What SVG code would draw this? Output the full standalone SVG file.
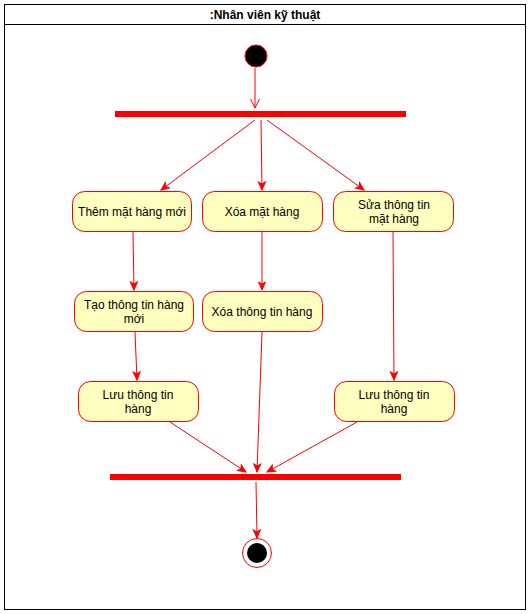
<svg xmlns="http://www.w3.org/2000/svg" width="531" height="614" viewBox="0 0 531 614">
<defs>
<marker id="arr" markerWidth="10" markerHeight="10" refX="9" refY="5" orient="auto" markerUnits="userSpaceOnUse">
<path d="M1,1.5 L9,5 L1,8.5 L3,5 Z" fill="#ff0000" stroke="#ff0000" stroke-width="1"/>
</marker>
<marker id="open" markerWidth="12" markerHeight="12" refX="10" refY="6" orient="auto" markerUnits="userSpaceOnUse">
<path d="M1,1.5 L10,6 L1,10.5" fill="none" stroke="#ff0000" stroke-width="1"/>
</marker>
</defs>
<style>
.act rect{fill:#ffffc0;stroke:#ff0000;stroke-width:1}
text{font-family:"Liberation Sans",Arial,sans-serif;font-size:12px;fill:#000;text-anchor:middle}
.c line{stroke:#ff0000;stroke-width:1;fill:none;marker-end:url(#arr)}
.bar{fill:#ff0000}
</style>
<rect x="0" y="0" width="531" height="614" fill="#fff"/>
<g id="frame">
<rect x="4.5" y="4.5" width="521" height="605" fill="none" stroke="#000" stroke-width="1"/>
<line x1="4.5" y1="24.5" x2="525.5" y2="24.5" stroke="#000" stroke-width="1"/>
<text x="265" y="19" font-weight="bold">:Nhân viên kỹ thuật</text>
</g>
<g id="start"><circle cx="256" cy="56" r="11" fill="#000" stroke="#ff0000" stroke-width="1"/></g>
<g id="fork"><rect class="bar" x="115" y="111" width="291" height="6"/></g>
<g id="join"><rect class="bar" x="110" y="474" width="291" height="6"/></g>
<g id="end">
<circle cx="257" cy="553" r="14.5" fill="#fff" stroke="#ff0000" stroke-width="1"/>
<circle cx="257" cy="553" r="10" fill="#000"/>
</g>
<g id="n1" class="act"><rect x="72.5" y="191.5" width="119" height="40" rx="12"/><text x="132" y="216">Thêm mặt hàng mới</text></g>
<g id="n2" class="act"><rect x="202.5" y="191.5" width="120" height="40" rx="12"/><text x="262" y="216">Xóa mặt hàng</text></g>
<g id="n3" class="act"><rect x="333.5" y="191.5" width="120" height="40" rx="12"/><text x="394" y="209">Sửa thông tin</text><text x="394" y="223">mặt hàng</text></g>
<g id="n4" class="act"><rect x="74.5" y="291.5" width="119" height="40" rx="12"/><text x="134" y="309">Tạo thông tin hàng</text><text x="134" y="323">mới</text></g>
<g id="n5" class="act"><rect x="202.5" y="291.5" width="120" height="40" rx="12"/><text x="262" y="316">Xóa thông tin hàng</text></g>
<g id="n6" class="act"><rect x="78.5" y="381.5" width="120" height="40" rx="12"/><text x="138" y="399">Lưu thông tin</text><text x="138" y="413">hàng</text></g>
<g id="n7" class="act"><rect x="334.5" y="381.5" width="120" height="40" rx="12"/><text x="394" y="399">Lưu thông tin</text><text x="394" y="413">hàng</text></g>
<g id="connectors" class="c">
<line x1="255" y1="68" x2="255" y2="108" style="marker-end:url(#open)"/>
<line x1="255" y1="120" x2="161" y2="190"/>
<line x1="261" y1="120" x2="262" y2="190"/>
<line x1="267" y1="120" x2="364" y2="190"/>
<line x1="133" y1="232" x2="134" y2="290"/>
<line x1="262" y1="232" x2="262" y2="290"/>
<line x1="393" y1="232" x2="394" y2="380"/>
<line x1="135" y1="332" x2="137" y2="380"/>
<line x1="170" y1="422" x2="246" y2="472"/>
<line x1="262" y1="332" x2="257" y2="472"/>
<line x1="357" y1="422" x2="267" y2="472"/>
<line x1="256" y1="482" x2="257" y2="538"/>
</g>
</svg>
